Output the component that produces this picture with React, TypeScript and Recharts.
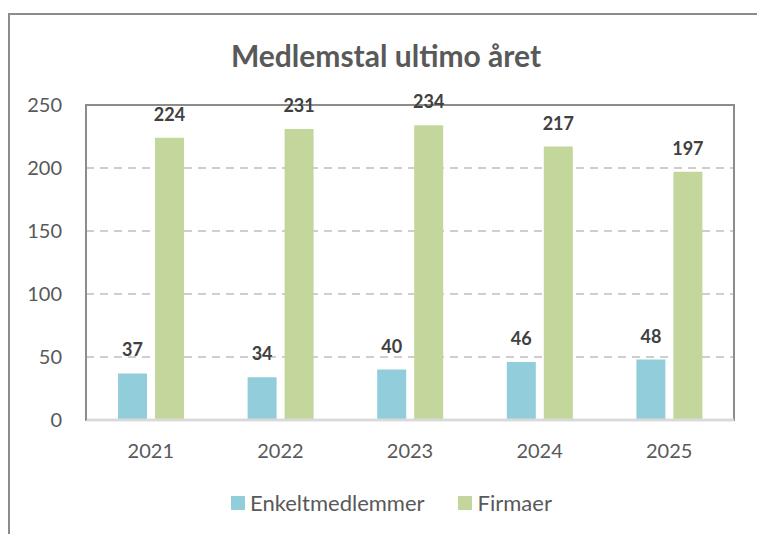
import React from "react";
import { BarChart, Bar, XAxis, YAxis, CartesianGrid, LabelList, ReferenceArea, ReferenceLine } from "recharts";

const years = ["2021", "2022", "2023", "2024", "2025"];
const enkeltmedlemmer = [37, 34, 40, 46, 48];
const firmaer = [224, 231, 234, 217, 197];
const yTicks = [0, 50, 100, 150, 200, 250];
const seriesNames = ["Enkeltmedlemmer", "Firmaer"];
const colors = ["#92CDDC", "#C3D69B"];

const data = years.map((y, i) => ({ year: y, e: enkeltmedlemmer[i], f: firmaer[i] }));

const FONT = "Lato, 'Open Sans', sans-serif";
const TEXT = "#595959";

export default function App() {
  return (
    <div style={{ position: "absolute", left: 0, top: 0, width: 757, height: 534, background: "#fff", fontFamily: FONT, overflow: "hidden" }}>
      <div style={{ position: "absolute", left: 8, top: 13, width: 760, height: 540, border: "2px solid #8c8c8c", boxSizing: "border-box" }} />
      <div style={{ position: "absolute", left: 0, top: 35, width: 772, textAlign: "center", fontSize: 30, fontWeight: 700, color: TEXT, lineHeight: "40px" }}>
        Medlemstal ultimo året
      </div>
      <div style={{ position: "absolute", left: 0, top: 0 }}>
        <BarChart width={757} height={534} data={data} margin={{ top: 105, right: 23, bottom: 84, left: 0 }} barGap={8} barCategoryGap="24%">
          <CartesianGrid vertical={false} stroke="#bfbfbf" strokeDasharray="8 6" strokeWidth={1.5} horizontalValues={[50, 100, 150, 200]} />
          <ReferenceArea y1={0} y2={250} fill="none" fillOpacity={0} stroke="#8c8c8c" strokeWidth={2} ifOverflow="visible" />
          <XAxis dataKey="year" tickLine={false} axisLine={{ stroke: "#d9d9d9", strokeWidth: 2.5 }} tickSize={0} tickMargin={24} height={30} tick={{ fill: TEXT, fontSize: 20, fontFamily: FONT }} />
          <YAxis domain={[0, 250]} ticks={yTicks} width={86} tickLine={false} tickSize={0} tickMargin={24} axisLine={{ stroke: "#8c8c8c", strokeWidth: 2 }} tick={{ fill: TEXT, fontSize: 20, fontFamily: FONT }} />
          <Bar dataKey="e" name={seriesNames[0]} fill={colors[0]} barSize={29} isAnimationActive={false}>
            <LabelList dataKey="e" position="top" offset={17} fill="#404040" fontSize={18} fontWeight={700} fontFamily={FONT} />
          </Bar>
          <Bar dataKey="f" name={seriesNames[1]} fill={colors[1]} barSize={29} isAnimationActive={false}>
            <LabelList dataKey="f" position="top" offset={17} fill="#404040" fontSize={18} fontWeight={700} fontFamily={FONT} />
          </Bar>
          <ReferenceLine y={0} stroke="#d9d9d9" strokeWidth={2.5} ifOverflow="visible" />
        </BarChart>
      </div>
      <div style={{ position: "absolute", left: 231, top: 489, display: "flex", alignItems: "center", fontSize: 22, color: TEXT, lineHeight: "28px" }}>
        <span style={{ display: "inline-block", width: 14, height: 14, background: colors[0], marginRight: 5 }} />
        <span>{seriesNames[0]}</span>
        <span style={{ display: "inline-block", width: 14, height: 14, background: colors[1], marginLeft: 33, marginRight: 6 }} />
        <span>{seriesNames[1]}</span>
      </div>
    </div>
  );
}
